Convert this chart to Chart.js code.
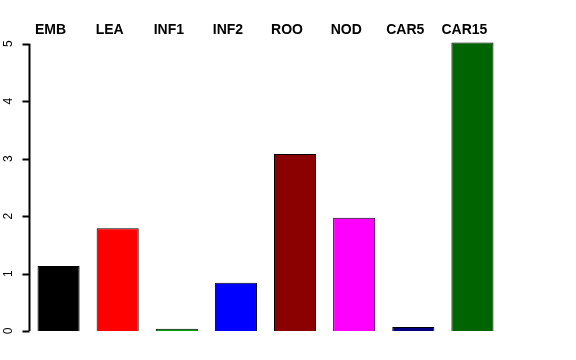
<!DOCTYPE html>
<html>
<head>
<meta charset="utf-8">
<script src="https://cdn.jsdelivr.net/npm/chart.js@4"></script>
<style>
  html, body { margin: 0; padding: 0; background: #fff; }
  #wrap { width: 576px; height: 360px; }
</style>
</head>
<body>
<div id="wrap"><canvas id="chart"></canvas></div>
<script>
const categories = ['EMB', 'LEA', 'INF1', 'INF2', 'ROO', 'NOD', 'CAR5', 'CAR15'];
const values = [1.13, 1.79, 0.04, 0.84, 3.08, 1.97, 0.07, 5.02];
const barColors = ['#000000', '#ff0000', '#00a000', '#0000ff', '#8b0000', '#ff00ff', '#000080', '#006400'];
const yTicks = [0, 1, 2, 3, 4, 5];

// y axis line and tick marks, R style (only spanning 0..5)
const yTickMarks = {
    id: 'yTickMarks',
    afterDraw(chart) {
        const y = chart.scales.y;
        const c = chart.ctx;
        const x0 = Math.round(chart.chartArea.left) + 0.5;
        c.save();
        c.strokeStyle = '#000';
        c.lineWidth = 2;
        c.beginPath();
        c.moveTo(x0, y.getPixelForValue(yTicks[0]));
        c.lineTo(x0, y.getPixelForValue(yTicks[yTicks.length - 1]));
        for (const v of yTicks) {
            const py = Math.round(y.getPixelForValue(v)) + 0.5;
            c.moveTo(x0 - 7, py);
            c.lineTo(x0, py);
        }
        c.stroke();
        c.restore();
    }
};

const ctx = document.getElementById('chart').getContext('2d');

new Chart(ctx, {
    type: 'bar',
    data: {
        labels: categories,
        datasets: [{
            data: values,
            backgroundColor: barColors,
            borderColor: '#000',
            borderWidth: 1,
            categoryPercentage: 1,
            barPercentage: 0.712
        }]
    },
    options: {
        responsive: true,
        maintainAspectRatio: false,
        animation: false,
        layout: { padding: { left: 0, right: 74, top: 0, bottom: 29 } },
        plugins: { legend: { display: false }, tooltip: { enabled: false } },
        scales: {
            x: {
                position: 'top',
                grid: { display: false, drawTicks: false },
                border: { display: false },
                ticks: {
                    color: '#000',
                    font: { family: 'Liberation Sans, Arial, sans-serif', size: 14, weight: 'bold' },
                    padding: 3,
                    labelOffset: -8,
                    maxRotation: 0,
                    autoSkip: false
                },
                afterFit: s => { s.height = 42; }
            },
            y: {
                min: 0,
                max: 5.03,
                grid: { display: false, drawTicks: false },
                border: { display: false },
                afterBuildTicks: s => { s.ticks = yTicks.map(v => ({ value: v })); },
                ticks: {
                    color: '#000',
                    font: { family: 'Liberation Sans, Arial, sans-serif', size: 12 },
                    minRotation: 90,
                    maxRotation: 90,
                    crossAlign: 'center',
                    padding: 17
                },
                afterFit: s => { s.width = 29; }
            }
        }
    },
    plugins: [yTickMarks]
});
</script>
</body>
</html>
